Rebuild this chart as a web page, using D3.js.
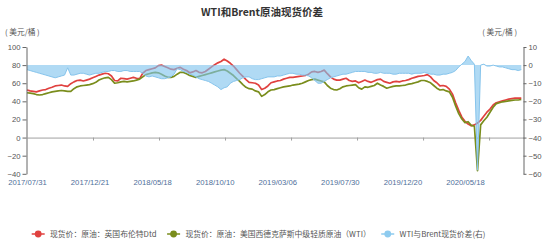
<!DOCTYPE html>
<meta charset="utf-8">
<style>
    body { margin: 0; background: #fff; }
    svg { font-family: "Noto Sans CJK SC", "Noto Sans", sans-serif; }
    .title { font-size: 10.5px; font-weight: bold; fill: #333; }
    .unit { font-size: 7.7px; fill: #555; }
    .axis text { font-size: 7.7px; fill: #555; }
    .axis path, .axis line { stroke: #666; }
    .xlab text { font-size: 7.7px; fill: #4f6f9a; }
    .legend text { font-size: 7.8px; fill: #555; }
</style>
<svg width="550" height="248"></svg>
<script src="https://d3js.org/d3.v7.min.js"></script>
<script>
    // tick labels on the category axis (one every 20 samples)
    const dateLabels = ["2017/07/31", "2017/12/21", "2018/05/18", "2018/10/10",
        "2019/03/06", "2019/07/30", "2019/12/20", "2020/05/18"];

    // Brent Dtd spot, USD/bbl (left axis)
    const brent = [
        52.5, 51.5, 51, 50.5, 51.5, 52.5, 53, 54.5, 55.5, 57, 57.5, 58, 57, 56.5, 59.5, 61.5, 63, 63.5, 62.5, 63.5,
        64.5, 66, 67.5, 69, 70, 71, 70.5, 68, 63, 62.5, 65.5, 65, 64.5, 65.5, 66.5, 65.5, 65, 71, 74, 75,
        76, 77, 79.5, 80, 78.5, 77, 75.5, 75, 76.5, 77.5, 75.5, 74, 71.5, 72.5, 74, 72, 71.5, 73, 75.5, 78,
        80.5, 82.5, 84, 86.5, 84.5, 82, 79, 75, 71, 67.5, 64, 61, 60.5, 60, 58, 53, 54.5, 57, 60.5, 61.5,
        62.5, 63, 64.5, 65.5, 66.5, 66.5, 67, 67.5, 68, 68.5, 70, 72.5, 73, 72, 73, 74.5, 70.5, 67, 64.5, 63.5,
        63.5, 64.5, 65.5, 63, 62, 62.5, 60.5, 62, 63.5, 62, 61, 62.5, 64, 64.5, 62, 61, 60, 61.5, 62, 61.5,
        62.5, 63, 64, 65.5, 66.5, 67.5, 68, 68.5, 69.5, 67, 63, 60.5, 57, 57.5, 56.5, 53.5, 48, 38.5, 30, 22.5,
        18, 15, 13, 14, 16, 19, 23.5, 28, 31.5, 36, 38.5, 39.5, 40.5, 41.5, 42.5, 43, 43.5, 43.5, 43.5
    ];

    // WTI spot, USD/bbl (left axis)
    const wti = [
        49.5, 49, 48.5, 47.5, 47, 47.5, 48.5, 49.5, 50.5, 51, 51.5, 52, 51.5, 51, 51, 54, 56, 57, 57.5, 58,
        58.5, 59.5, 61, 63.5, 65, 66, 66.5, 64, 60, 60.5, 61.5, 62, 61.5, 62, 62.5, 63.5, 64.5, 67, 69.5, 70.5,
        71.5, 72, 71.5, 70, 68, 66.5, 66.5, 67.5, 70, 72, 72, 70.5, 68.5, 67.5, 66.5, 67.5, 68.5, 69.5, 70.5, 71.5,
        72.5, 73.5, 74.5, 75, 73.5, 71, 68.5, 65, 62, 58.5, 55.5, 54, 53.5, 51.5, 50.5, 45.5, 47.5, 50.5, 52.5, 53,
        54, 55, 56, 56.5, 57, 58, 58.5, 59, 60, 61.5, 63, 64, 64.5, 63.5, 62.5, 61.5, 57.5, 54.5, 53, 52.5,
        54, 56, 57, 57.5, 58, 58.5, 55, 53.5, 56, 55.5, 56.5, 57.5, 60, 58, 56.5, 54.5, 55.5, 56.5, 57, 57,
        57.5, 58, 59, 59.5, 60.5, 61.5, 63, 63, 62, 60.5, 57.5, 54.5, 52.5, 53, 51.5, 50.5, 44.5, 35, 26.5, 20.5,
        16.5, 17.5, 13.5, 12.5, -36.5, 14, 18.5, 22.5, 28, 33.5, 37.5, 38.5, 39.5, 40, 40.5, 41, 41.5, 41.5, 42
    ];

    // WTI - Brent spread, USD/bbl (right axis)
    const spread = [
        -2.5, -3, -3.5, -4, -4.5, -5, -5.5, -6, -6.5, -7, -6.5, -6, -5.5, -1.5, -5.5, -5.5, -5, -4.5, -4.5, -5,
        -5.5, -5, -4.5, -4.5, -4, -3.5, -3.5, -3, -3, -3.5, -3.5, -3, -3, -3.5, -3.5, -3.5, -3.5, -4.5, -6, -6.5,
        -6, -6.5, -7, -7.5, -7.5, -7, -6.5, -5, -2, -2.5, -3.5, -4, -5, -5.5, -6.5, -7.5, -8, -8.5, -9, -10,
        -11, -12, -13.5, -12.5, -12, -10, -9, -8.5, -8, -7, -6.5, -6.5, -7.5, -8, -8, -7.5, -7, -6.5, -6.5, -6.5,
        -6, -6, -5.5, -5, -4.5, -4.5, -5, -5, -5.5, -5.5, -6, -7, -8.5, -10, -10, -9, -8, -7, -6.5, -6,
        -5.5, -5, -5, -4.5, -4, -3.5, -3.5, -3.5, -3.5, -4, -4, -4.5, -4.5, -4, -4.5, -4.5, -4.5, -5, -5, -4.5,
        -4.5, -4.5, -4.5, -5, -4.5, -4.5, -4.5, -4, -4.5, -5, -5, -5.5, -5.5, -5, -5, -4.5, -4, -3, -1, 0.5,
        2, 5, 2.5, 0.5, -58, 0, 0.5, -0.5, -0.5, 0, -0.5, -1, -1, -1.5, -2, -2.5, -2.5, -3, -2.5
    ];

    const leftTicks = [-40, -20, 0, 20, 40, 60, 80, 100];
    const rightTicks = [-60, -50, -40, -30, -20, -10, 0, 10];

    const legendItems = [
        { name: "现货价：原油：英国布伦特Dtd", color: "#e0413f" },
        { name: "现货价：原油：美国西德克萨斯中级轻质原油（WTI）", color: "#7a8d1c" },
        { name: "WTI与Brent现货价差(右)", color: "#8ecbef" }
    ];

    const svg = d3.select("svg");
    const labelEvery = 20;      // samples between date labels
    const tickEvery = 21.1;     // samples between axis tick marks

    const x = d3.scaleLinear().domain([0, 158.7]).range([27, 523.5]);
    const yL = d3.scaleLinear().domain([-40, 100]).range([173.8, 47]);
    const yR = d3.scaleLinear().domain([-60, 10]).range([173.8, 47]);

    // title and units
    svg.append("text").attr("class", "title")
        .attr("x", 262).attr("y", 15.5).attr("text-anchor", "middle")
        .text("WTI和Brent原油现货价差");
    svg.append("text").attr("class", "unit").attr("x", 5).attr("y", 35).text("( 美元/桶 )");
    svg.append("text").attr("class", "unit").attr("x", 517).attr("y", 35)
        .attr("text-anchor", "end").text("( 美元/桶 )");

    // zero line with small ticks
    const xAxis = svg.append("g")
        .attr("transform", `translate(0,${yL(0)})`)
        .call(d3.axisBottom(x)
            .tickValues(d3.range(1, 8).map(k => k * tickEvery))
            .tickFormat("").tickSize(3).tickSizeOuter(0));
    xAxis.select(".domain").attr("stroke", "#a0a0a0");
    xAxis.selectAll(".tick line").attr("stroke", "#a0a0a0");

    // date labels
    const xLab = svg.append("g").attr("class", "xlab")
        .attr("transform", "translate(0,177.5)")
        .call(d3.axisBottom(x)
            .tickValues(dateLabels.map((d, i) => i * labelEvery))
            .tickFormat((d, i) => dateLabels[i]).tickSize(0).tickPadding(2));
    xLab.select(".domain").remove();

    const lineL = () => d3.line().x((d, i) => x(i)).y(d => yL(d));

    svg.append("path").datum(brent)
        .attr("fill", "none").attr("stroke", legendItems[0].color)
        .attr("stroke-width", 1.7).attr("stroke-linejoin", "round")
        .attr("d", lineL());

    svg.append("path").datum(wti)
        .attr("fill", "none").attr("stroke", legendItems[1].color)
        .attr("stroke-width", 1.7).attr("stroke-linejoin", "round")
        .attr("d", lineL());

    // spread area sits on top, semi transparent
    svg.append("path").datum(spread)
        .attr("fill", "#7fc3ee").attr("fill-opacity", 0.62)
        .attr("d", d3.area().x((d, i) => x(i)).y0(yR(0)).y1(d => yR(d)));
    svg.append("path").datum(spread)
        .attr("fill", "none").attr("stroke", "#86c4ec").attr("stroke-width", 1)
        .attr("d", d3.line().x((d, i) => x(i)).y(d => yR(d)));

    // y axes
    svg.append("g").attr("class", "axis")
        .attr("transform", "translate(26.5,0)")
        .call(d3.axisLeft(yL).tickValues(leftTicks).tickSize(4).tickPadding(2).tickSizeOuter(0));

    svg.append("g").attr("class", "axis")
        .attr("transform", "translate(523.5,0)")
        .call(d3.axisRight(yR).tickValues(rightTicks).tickSize(3).tickPadding(2).tickSizeOuter(0));

    // legend
    const legend = svg.append("g").attr("class", "legend").attr("transform", "translate(0,234)");
    let lx = 31.7;
    legendItems.forEach(item => {
        const g = legend.append("g").attr("transform", `translate(${lx},0)`);
        g.append("line").attr("x1", 0).attr("x2", 13).attr("y1", 0).attr("y2", 0)
            .attr("stroke", item.color).attr("stroke-width", 1.5);
        g.append("circle").attr("cx", 6.5).attr("cy", 0).attr("r", 3.4).attr("fill", item.color);
        const t = g.append("text").attr("x", 18.3).attr("y", 2.8).text(item.name);
        lx += 18.3 + t.node().getComputedTextLength() + 10.5;
    });
</script>
